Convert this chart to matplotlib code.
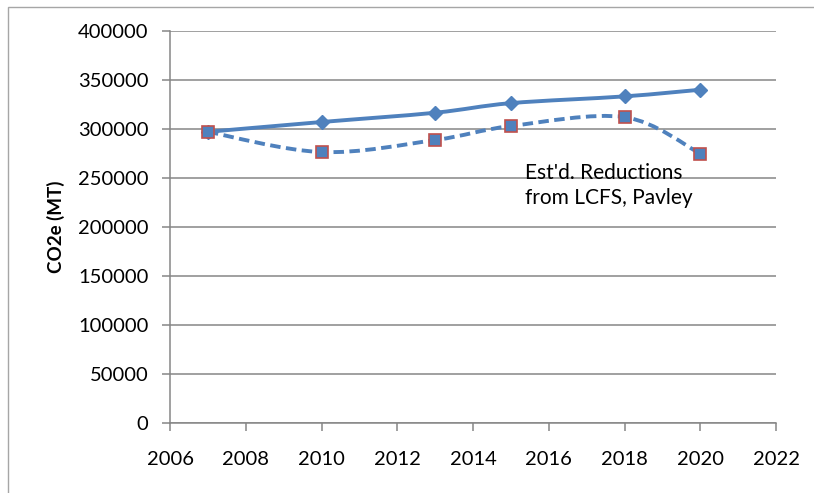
import matplotlib
matplotlib.use("Agg")
import matplotlib.pyplot as plt
from matplotlib.path import Path
from matplotlib.patches import PathPatch, Rectangle

plt.rcParams['font.family'] = ['Lato', 'DejaVu Sans']

years = [2007, 2010, 2013, 2015, 2018, 2020]
baseline = [297000, 307000, 316500, 326300, 333200, 340000]
reduced = [297000, 276300, 288600, 302900, 312000, 274700]
x_ticks = list(range(2006, 2023, 2))
y_ticks = list(range(0, 400001, 50000))

BLUE = '#4F81BD'
RED = '#C0504D'
GRAY = '#868686'


def smooth_path(xs, ys, t=1 / 6):
    # cubic bezier through the points, like a spreadsheet "smoothed line"
    pts = list(zip(xs, ys))
    verts = [pts[0]]
    codes = [Path.MOVETO]
    n = len(pts)
    for i in range(n - 1):
        p0 = pts[max(i - 1, 0)]
        p1 = pts[i]
        p2 = pts[i + 1]
        p3 = pts[min(i + 2, n - 1)]
        c1 = (p1[0] + (p2[0] - p0[0]) * t, p1[1] + (p2[1] - p0[1]) * t)
        c2 = (p2[0] - (p3[0] - p1[0]) * t, p2[1] - (p3[1] - p1[1]) * t)
        verts += [c1, c2, p2]
        codes += [Path.CURVE4] * 3
    return Path(verts, codes)


fig = plt.figure(figsize=(8.14, 4.93), dpi=100)
fig.patches.append(Rectangle((8 / 814, -0.1), 1.2, 1 - 7 / 493 + 0.1, transform=fig.transFigure,
                             fill=False, edgecolor='#A6A6A6', linewidth=1.0))

ax = fig.add_axes([170 / 814, 1 - 422.5 / 493, 606 / 814, 391.5 / 493])
ax.set_xlim(2006, 2022)
ax.set_ylim(0, 400000)
ax.set_xticks(x_ticks)
ax.set_yticks(y_ticks)
ax.set_xticklabels([str(v) for v in x_ticks])
ax.set_yticklabels([str(v) for v in y_ticks])
ax.grid(axis='y', color=GRAY, linewidth=1.1)
ax.set_axisbelow(True)
for s in ['top', 'right']:
    ax.spines[s].set_visible(False)
for s in ['left', 'bottom']:
    ax.spines[s].set_color(GRAY)
    ax.spines[s].set_linewidth(1.1)
ax.tick_params(axis='both', colors=GRAY, width=1.1, length=5.5, labelcolor='black', labelsize=14.5)
ax.tick_params(axis='y', pad=10)
ax.tick_params(axis='x', pad=15)

ax.add_patch(PathPatch(smooth_path(years, baseline), fill=False, edgecolor=BLUE,
                       linewidth=2.8, capstyle='round', zorder=3))
ax.add_patch(PathPatch(smooth_path(years, reduced), fill=False, edgecolor=BLUE,
                       linewidth=2.8, linestyle=(0, (2.7, 1.4)), zorder=3))
ax.plot(years, baseline, linestyle='none', marker='D', markersize=7,
        color=BLUE, markeredgecolor=BLUE, zorder=4)
ax.plot(years, reduced, linestyle='none', marker='s', markersize=8,
        color=BLUE, markeredgecolor=RED, markeredgewidth=1.2, zorder=4)

ax.text(2015.37, 265000, "Est'd. Reductions\nfrom LCFS, Pavley", fontsize=15,
        va='top', ha='left', linespacing=1.3)
ax.set_ylabel('CO2e (MT)', fontsize=13.5, fontweight='bold', labelpad=9)

fig.savefig('out.png', dpi=100)
